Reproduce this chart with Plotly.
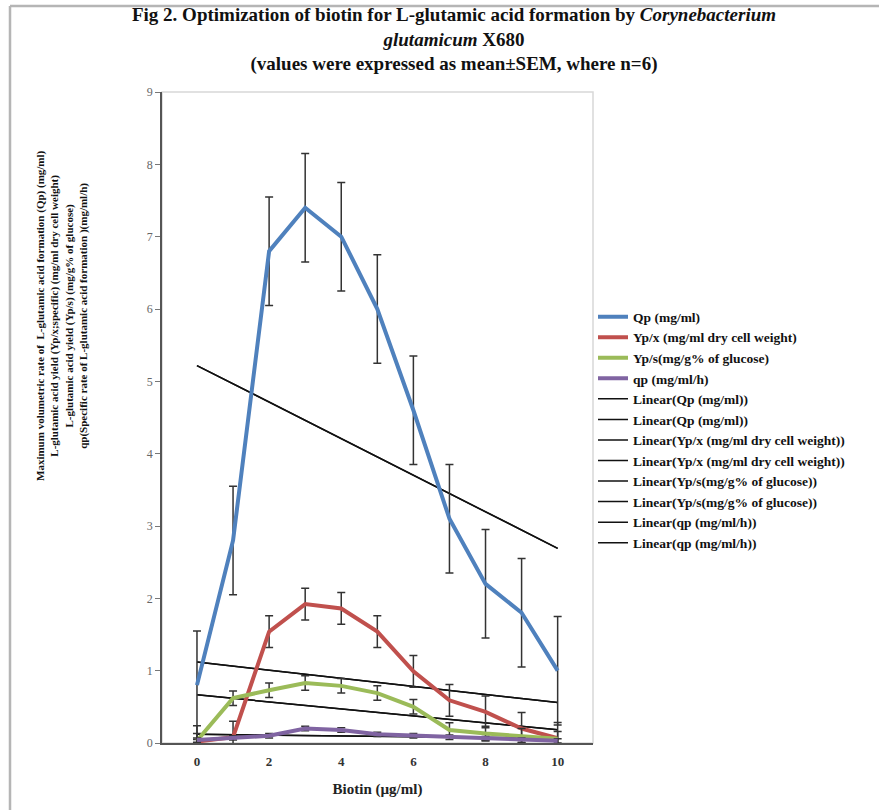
import numpy as np
import plotly.graph_objects as go

# ---------------- data ----------------
biotin = [0, 1, 2, 3, 4, 5, 6, 7, 8, 9, 10]

qp_vol = [0.80, 2.80, 6.80, 7.40, 7.00, 6.00, 4.60, 3.10, 2.20, 1.80, 1.00]
qp_vol_sem = [0.75] * 11

yp_x = [0.02, 0.08, 1.54, 1.92, 1.86, 1.54, 0.99, 0.59, 0.43, 0.20, 0.065]
yp_x_sem = [0.22] * 11

yp_s = [0.03, 0.62, 0.73, 0.83, 0.79, 0.69, 0.50, 0.18, 0.13, 0.10, 0.06]
yp_s_sem = [0.10] * 11

qp_spec = [0.04, 0.07, 0.10, 0.20, 0.18, 0.12, 0.10, 0.08, 0.06, 0.04, 0.03]
qp_spec_sem = [0.03] * 11

series_names = ["Qp (mg/ml)", "Yp/x (mg/ml dry cell weight)",
                "Yp/s(mg/g% of glucose)", "qp (mg/ml/h)"]
series_vals = [qp_vol, yp_x, yp_s, qp_spec]
series_sems = [qp_vol_sem, yp_x_sem, yp_s_sem, qp_spec_sem]
series_colors = ["#4F81BD", "#C0504D", "#9BBB59", "#8064A2"]

x_ticks = [0, 2, 4, 6, 8, 10]
y_ticks = [0, 1, 2, 3, 4, 5, 6, 7, 8, 9]

FONT = "Liberation Serif"

fig = go.Figure()

# trend lines (least squares fits of each series), each listed twice in the legend
xs = np.array(biotin, dtype=float)
for name, vals in zip(series_names, series_vals):
    slope, intercept = np.polyfit(xs, np.array(vals, dtype=float), 1)
    fit = slope * xs + intercept
    for _ in range(2):
        fig.add_trace(go.Scatter(
            x=biotin, y=fit, mode="lines", name=f"<b>Linear({name})</b>",
            line=dict(color="#111111", width=1.5), legendrank=1000,
            hoverinfo="skip", cliponaxis=False))

# main series with error bars
for i, (name, vals, sem, col) in enumerate(zip(series_names, series_vals, series_sems, series_colors)):
    fig.add_trace(go.Scatter(
        x=biotin, y=vals, mode="lines", name=f"<b>{name}</b>",
        line=dict(color=col, width=4), legendrank=i + 1,
        error_y=dict(type="data", array=sem, visible=True,
                     color="#333333", thickness=1.5, width=4),
        cliponaxis=False))

title_text = ("<b>Fig 2. Optimization of biotin for L-glutamic acid formation by <i>Corynebacterium</i>"
              "<br><i>glutamicum</i> X680<br>(values were expressed as mean±SEM, where n=6)</b>")

ytitle = ("<b>Maximum volumetric rate of  L-glutamic acid formation (Qp) (mg/ml)"
          "<br>L-glutamic acid yield (Yp/x;specific) (mg/ml dry cell weight)"
          "<br>L-glutamic acid yield (Yp/s) (mg/g% of glucose)"
          "<br>qp(Specific rate of L-glutamic acid formation )(mg/ml/h)</b>")

fig.update_layout(
    width=879, height=810,
    margin=dict(l=162, r=286, t=92, b=67),
    paper_bgcolor="white", plot_bgcolor="white",
    font=dict(family=FONT, color="#222222"),
    title=dict(text=title_text, x=454 / 879, xanchor="center", xref="container",
               y=1 - 21 / 810, yanchor="top", yref="container",
               font=dict(family=FONT, size=19, color="#111111")),
    showlegend=True,
    legend=dict(x=1.0, xanchor="left", y=0.481, yanchor="middle",
                font=dict(family=FONT, size=13.5, color="#111111"),
                bgcolor="rgba(0,0,0,0)", traceorder="normal",
                itemwidth=30),
    xaxis=dict(range=[-0.97, 10.98], tickvals=x_ticks, ticktext=[f"<b>{v}</b>" for v in x_ticks],
               showgrid=False, zeroline=False, showline=True, linecolor="#555555",
               linewidth=1.5, ticks="outside", ticklen=6, tickcolor="rgba(0,0,0,0)",
               tickfont=dict(family=FONT, size=13, color="#333333"),
               title=dict(text="<b>Biotin (µg/ml)</b>", font=dict(family=FONT, size=15, color="#222222"),
                          standoff=15)),
    yaxis=dict(range=[0, 9], tickvals=y_ticks, showgrid=False, zeroline=False,
               showline=True, linecolor="#555555", linewidth=1.5,
               ticks="outside", ticklen=5, tickcolor="#777777",
               tickfont=dict(family=FONT, size=12, color="#666666")),
    annotations=[dict(text=ytitle, textangle=-90, xref="paper", yref="paper",
                      x=(62 - 162) / 431, y=(743 - 316) / 651, xanchor="center", yanchor="middle",
                      showarrow=False, align="center",
                      font=dict(family=FONT, size=11, color="#111111"))],
    shapes=[
        # light plot frame (top / right)
        dict(type="rect", xref="paper", yref="paper", x0=0, x1=1, y0=0, y1=1,
             line=dict(color="#d8d8d8", width=1.5), layer="below"),
        # image frame lines
        dict(type="line", xref="paper", yref="paper", x0=(10 - 162) / 431, x1=(879 - 162) / 431,
             y0=(743 - 6) / 651, y1=(743 - 6) / 651, line=dict(color="#b5b5b5", width=2.5)),
        dict(type="line", xref="paper", yref="paper", x0=(10 - 162) / 431, x1=(10 - 162) / 431,
             y0=(743 - 6) / 651, y1=(743 - 812) / 651, line=dict(color="#b5b5b5", width=2.5)),
    ],
)

fig.write_html("out.html")
